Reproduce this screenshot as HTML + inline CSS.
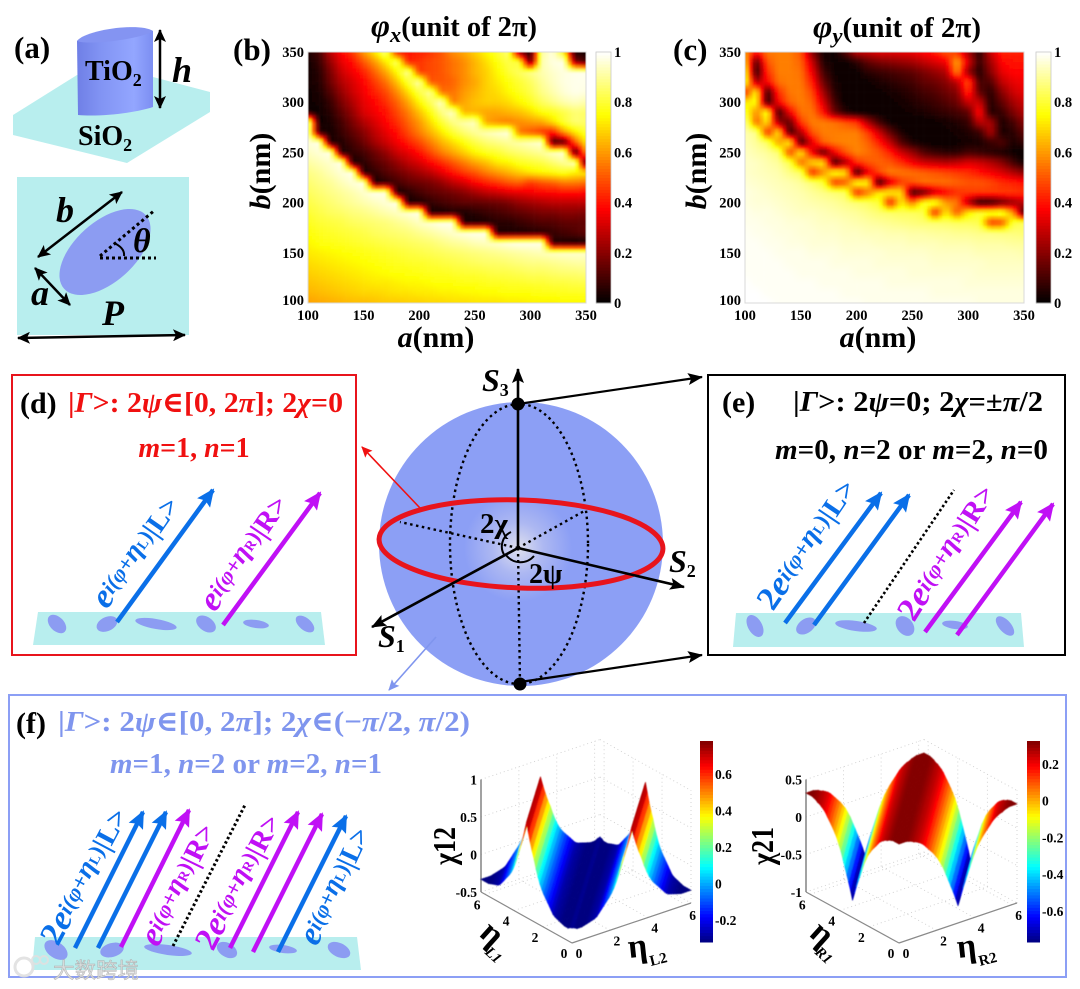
<!DOCTYPE html>
<html lang="en">
<head>
<meta charset="utf-8">
<title>Metasurface phase maps and Poincare sphere figure</title>
<style>
html,body{margin:0;padding:0;background:#fff;}
svg{display:block;}
text{font-family:"Liberation Serif","DejaVu Serif",serif;font-weight:bold;fill:#000;}
.cjk{font-family:"Liberation Sans","Noto Sans CJK SC",sans-serif;font-weight:normal;}
</style>
</head>
<body>
<svg id="fig" xmlns="http://www.w3.org/2000/svg" width="1080" height="989" viewBox="0 0 1080 989">
<defs>
<marker id="mk" markerUnits="userSpaceOnUse" markerWidth="16" markerHeight="14" refX="14" refY="7" orient="auto"><path d="M0,1 L15,7 L0,13 L3,7 Z" fill="#000"/></marker>
<marker id="mkDouble" markerUnits="userSpaceOnUse" markerWidth="14" markerHeight="12" refX="12" refY="6" orient="auto-start-reverse"><path d="M0,0 L13,6 L0,12 L3,6 Z" fill="#000"/></marker>
<marker id="mkBlue" markerUnits="userSpaceOnUse" markerWidth="18" markerHeight="16" refX="16" refY="8" orient="auto"><path d="M0,0 L18,8 L0,16 L3,8 Z" fill="#0a6fe8"/></marker>
<marker id="mkPurple" markerUnits="userSpaceOnUse" markerWidth="18" markerHeight="16" refX="16" refY="8" orient="auto"><path d="M0,0 L18,8 L0,16 L3,8 Z" fill="#c010f5"/></marker>
<marker id="mkRed" markerUnits="userSpaceOnUse" markerWidth="12" markerHeight="10" refX="10" refY="5" orient="auto"><path d="M0,0 L11,5 L0,10 L2,5 Z" fill="#f01010"/></marker>
<marker id="mkPeri" markerUnits="userSpaceOnUse" markerWidth="12" markerHeight="10" refX="10" refY="5" orient="auto"><path d="M0,0 L11,5 L0,10 L2,5 Z" fill="#7f95ee"/></marker>
<linearGradient id="cyl" x1="0" x2="1" y1="0" y2="0"><stop offset="0" stop-color="#6f7fe6"/><stop offset=".3" stop-color="#8193f3"/><stop offset=".75" stop-color="#93a6ff"/><stop offset="1" stop-color="#7c8ef2"/></linearGradient>
<radialGradient id="sphereGrad" cx="518" cy="548" r="142" gradientUnits="userSpaceOnUse"><stop offset="0" stop-color="#dfe0ee"/><stop offset=".18" stop-color="#adb8f2"/><stop offset=".38" stop-color="#8c9ff5"/><stop offset="1" stop-color="#8c9ff5"/></radialGradient>
<filter id="soft" x="-5%" y="-5%" width="110%" height="110%"><feGaussianBlur stdDeviation="1"/></filter>
<filter id="soft3d" x="-5%" y="-5%" width="110%" height="110%"><feGaussianBlur stdDeviation="0.6"/></filter>
<clipPath id="clipB"><rect x="308" y="52" width="278" height="251"/></clipPath>
<clipPath id="clipC"><rect x="745" y="52" width="279" height="251"/></clipPath>
</defs>
<rect width="1080" height="989" fill="#fff"/>

<g>
<text x="14" y="58" font-size="31">(a)</text>
<polygon points="13,115 77,75 153,77 210,92 210,112 127,163 13,135" fill="#b8eeee"/>
<path d="M77,41 C85,33 140,24 153,31 L153,107 C135,113 100,117 78,115 Z" fill="url(#cyl)"/>
<path d="M77,41 C85,30 140,22 153,31 C145,38 90,46 77,41 Z" fill="#8494f2"/>
<text x="85" y="80" font-size="28">TiO<tspan font-size="18" dy="6">2</tspan></text>
<text x="78" y="145" font-size="28">SiO<tspan font-size="18" dy="6">2</tspan></text>
<line x1="160" y1="30" x2="160" y2="108" stroke="#000" stroke-width="2.5" marker-start="url(#mkDouble)" marker-end="url(#mkDouble)"/>
<text x="172" y="82" font-size="36" font-style="italic">h</text>
<rect x="17" y="177" width="172" height="158" fill="#b8eeee"/>
<ellipse cx="105" cy="252" rx="55" ry="30" transform="rotate(-42 105 252)" fill="#8c9cf2"/>
<line x1="38" y1="257" x2="122" y2="192" stroke="#000" stroke-width="2.5" marker-start="url(#mkDouble)" marker-end="url(#mkDouble)"/>
<line x1="35" y1="268" x2="70" y2="305" stroke="#000" stroke-width="2.5" marker-start="url(#mkDouble)" marker-end="url(#mkDouble)"/>
<line x1="18" y1="338" x2="185" y2="335" stroke="#000" stroke-width="2.5" marker-start="url(#mkDouble)" marker-end="url(#mkDouble)"/>
<text x="56" y="222" font-size="36" font-style="italic">b</text>
<text x="31" y="305" font-size="36" font-style="italic">a</text>
<text x="102" y="325" font-size="36" font-style="italic">P</text>
<text x="133" y="252" font-size="34" font-style="italic">θ</text>
<line x1="100" y1="258" x2="156" y2="258" stroke="#000" stroke-width="3" stroke-dasharray="3 3"/>
<line x1="100" y1="256" x2="155" y2="210" stroke="#000" stroke-width="3" stroke-dasharray="3 3"/>
<path d="M114,243 Q125,248 124,256" fill="none" stroke="#000" stroke-width="2"/>
</g>

<g>
<text x="233" y="60" font-size="31">(b)</text>
<text x="371" y="36" font-size="28" textLength="166" lengthAdjust="spacingAndGlyphs"><tspan font-style="italic" font-size="32">φ</tspan><tspan font-style="italic" font-size="22" dy="6">x</tspan><tspan dy="-6">(unit of 2π)</tspan></text>
<text x="436" y="347" font-size="30" text-anchor="middle"><tspan font-style="italic">a</tspan>(nm)</text>
<text transform="translate(270,171) rotate(-90)" font-size="30" text-anchor="middle"><tspan font-style="italic">b</tspan>(nm)</text>
</g>
<g>
<text x="673" y="60" font-size="31">(c)</text>
<text x="813" y="37" font-size="28" textLength="168" lengthAdjust="spacingAndGlyphs"><tspan font-style="italic" font-size="32">φ</tspan><tspan font-style="italic" font-size="22" dy="6">y</tspan><tspan dy="-6">(unit of 2π)</tspan></text>
<text x="878" y="347" font-size="30" text-anchor="middle"><tspan font-style="italic">a</tspan>(nm)</text>
<text transform="translate(706,171) rotate(-90)" font-size="30" text-anchor="middle"><tspan font-style="italic">b</tspan>(nm)</text>
</g>
<g id="heatB"></g>
<g id="heatC"></g>

<g>
<rect x="12" y="375" width="344" height="280" fill="#fff" stroke="#e8141c" stroke-width="2"/>
<text x="20" y="413" font-size="30">(d)</text>
<text x="68" y="412" font-size="29" textLength="275" lengthAdjust="spacingAndGlyphs" style="fill:#f01010">|<tspan font-style="italic">Γ</tspan>&gt;: 2<tspan font-style="italic">ψ</tspan>∈[0, 2<tspan font-style="italic">π</tspan>]; 2<tspan font-style="italic">χ</tspan>=0</text>
<text x="194" y="457" font-size="28" text-anchor="middle" style="fill:#f01010"><tspan font-style="italic">m</tspan>=1, <tspan font-style="italic">n</tspan>=1</text>
<polygon points="38,612 321,612 325,645 33,645" fill="#b8eeee"/>
<g fill="#8c9cf2">
<ellipse cx="57" cy="624" rx="11" ry="7" transform="rotate(45 57 624)"/>
<ellipse cx="107" cy="624" rx="11" ry="7" transform="rotate(-25 107 624)"/>
<ellipse cx="156" cy="624" rx="21" ry="5" transform="rotate(10 156 624)"/>
<ellipse cx="206" cy="624" rx="11" ry="7" transform="rotate(35 206 624)"/>
<ellipse cx="256" cy="624" rx="13" ry="4" transform="rotate(8 256 624)"/>
<ellipse cx="305" cy="624" rx="11" ry="6" transform="rotate(40 305 624)"/>
</g>
<line x1="117" y1="622" x2="213" y2="490" stroke="#0a6fe8" stroke-width="4.5" marker-end="url(#mkBlue)"/>
<line x1="223" y1="625" x2="320" y2="493" stroke="#c010f5" stroke-width="4.5" marker-end="url(#mkPurple)"/>
<text transform="translate(107,610) rotate(-55)" textLength="128" lengthAdjust="spacingAndGlyphs" font-size="22" style="fill:#0a6fe8"><tspan font-size="34" font-style="italic">e</tspan><tspan font-style="italic" dy="-4">i(φ+</tspan><tspan font-size="27" font-style="italic">η</tspan><tspan font-size="14">L</tspan><tspan>)</tspan><tspan dy="4" font-size="28">|L&gt;</tspan></text>
<text transform="translate(215,613) rotate(-56)" textLength="132" lengthAdjust="spacingAndGlyphs" font-size="22" style="fill:#c010f5"><tspan font-size="34" font-style="italic">e</tspan><tspan font-style="italic" dy="-4">i(φ+</tspan><tspan font-size="27" font-style="italic">η</tspan><tspan font-size="14">R</tspan><tspan>)</tspan><tspan dy="4" font-size="28">|R&gt;</tspan></text>
</g>

<g>
<circle cx="521" cy="544" r="142" fill="url(#sphereGrad)"/>
<ellipse cx="519" cy="544" rx="69" ry="140" fill="none" stroke="#000" stroke-width="2.4" stroke-dasharray="2.5 3.5"/>
<line x1="518" y1="548" x2="520" y2="684" stroke="#000" stroke-width="2.4" stroke-dasharray="2.5 3.5"/>
<line x1="518" y1="548" x2="400" y2="522" stroke="#000" stroke-width="2.4" stroke-dasharray="2.5 3.5"/>
<line x1="518" y1="548" x2="586" y2="510" stroke="#000" stroke-width="2.4" stroke-dasharray="2.5 3.5"/>
<ellipse cx="521" cy="544" rx="142" ry="44" transform="rotate(2 521 544)" fill="none" stroke="#e8141c" stroke-width="5"/>
<line x1="518" y1="548" x2="518" y2="369" stroke="#000" stroke-width="2.6" marker-end="url(#mk)"/>
<line x1="518" y1="548" x2="684" y2="587" stroke="#000" stroke-width="2.6" marker-end="url(#mk)"/>
<line x1="518" y1="548" x2="372" y2="627" stroke="#000" stroke-width="2.6" marker-end="url(#mk)"/>
<circle cx="518" cy="404" r="6.5" fill="#000"/>
<circle cx="520" cy="684" r="6.5" fill="#000"/>
<line x1="518" y1="404" x2="702" y2="377" stroke="#000" stroke-width="2.2" marker-end="url(#mk)"/>
<line x1="520" y1="682" x2="702" y2="655" stroke="#000" stroke-width="2.2" marker-end="url(#mk)"/>
<line x1="420" y1="508" x2="362" y2="447" stroke="#f01010" stroke-width="1.6" marker-end="url(#mkRed)"/>
<line x1="436" y1="637" x2="389" y2="690" stroke="#7f95ee" stroke-width="1.6" marker-end="url(#mkPeri)"/>
<path d="M511,532 A16,16 0 0 0 505,556" fill="none" stroke="#000" stroke-width="2"/>
<path d="M506,555 A18,18 0 0 0 534,556" fill="none" stroke="#000" stroke-width="2"/>
<text x="480" y="533" font-size="29">2χ</text>
<text x="529" y="583" font-size="28">2ψ</text>
<text x="482" y="391" font-size="32" font-style="italic">S<tspan font-size="18" dy="5" font-style="normal">3</tspan></text>
<text x="669" y="572" font-size="32" font-style="italic">S<tspan font-size="18" dy="5" font-style="normal">2</tspan></text>
<text x="378" y="647" font-size="32" font-style="italic">S<tspan font-size="18" dy="5" font-style="normal">1</tspan></text>
</g>

<g>
<rect x="708" y="375" width="357" height="280" fill="#fff" stroke="#000" stroke-width="2"/>
<text x="722" y="412" font-size="30">(e)</text>
<text x="793" y="411" font-size="29" textLength="250" lengthAdjust="spacingAndGlyphs">|<tspan font-style="italic">Γ</tspan>&gt;: 2<tspan font-style="italic">ψ</tspan>=0; 2<tspan font-style="italic">χ</tspan>=±<tspan font-style="italic">π</tspan>/2</text>
<text x="775" y="459" font-size="29" textLength="273" lengthAdjust="spacingAndGlyphs"><tspan font-style="italic">m</tspan>=0, <tspan font-style="italic">n</tspan>=2 or <tspan font-style="italic">m</tspan>=2, <tspan font-style="italic">n</tspan>=0</text>
<polygon points="736,613 1021,613 1024,647 733,647" fill="#b8eeee"/>
<g fill="#8c9cf2">
<ellipse cx="755" cy="626" rx="12" ry="7" transform="rotate(60 755 626)"/>
<ellipse cx="806" cy="626" rx="11" ry="7" transform="rotate(-35 806 626)"/>
<ellipse cx="856" cy="626" rx="21" ry="5" transform="rotate(8 856 626)"/>
<ellipse cx="905" cy="626" rx="11" ry="8" transform="rotate(50 905 626)"/>
<ellipse cx="955" cy="625" rx="13" ry="4" transform="rotate(8 955 625)"/>
<ellipse cx="1005" cy="626" rx="12" ry="6" transform="rotate(48 1005 626)"/>
</g>
<line x1="785" y1="623" x2="881" y2="493" stroke="#0a6fe8" stroke-width="4.5" marker-end="url(#mkBlue)"/>
<line x1="814" y1="625" x2="909" y2="495" stroke="#0a6fe8" stroke-width="4.5" marker-end="url(#mkBlue)"/>
<line x1="864" y1="623" x2="954" y2="490" stroke="#000" stroke-width="2.6" stroke-dasharray="2.5 2.5"/>
<line x1="925" y1="632" x2="1021" y2="502" stroke="#c010f5" stroke-width="4.5" marker-end="url(#mkPurple)"/>
<line x1="957" y1="635" x2="1053" y2="504" stroke="#c010f5" stroke-width="4.5" marker-end="url(#mkPurple)"/>
<text transform="translate(773,612) rotate(-56)" textLength="150" lengthAdjust="spacingAndGlyphs" font-size="22" style="fill:#0a6fe8"><tspan font-size="33">2</tspan><tspan font-size="34" font-style="italic">e</tspan><tspan font-style="italic" dy="-4">i(φ+</tspan><tspan font-size="27" font-style="italic">η</tspan><tspan font-size="14">L</tspan><tspan>)</tspan><tspan dy="4" font-size="28">|L&gt;</tspan></text>
<text transform="translate(914,623) rotate(-58)" textLength="154" lengthAdjust="spacingAndGlyphs" font-size="22" style="fill:#c010f5"><tspan font-size="33">2</tspan><tspan font-size="34" font-style="italic">e</tspan><tspan font-style="italic" dy="-4">i(φ+</tspan><tspan font-size="27" font-style="italic">η</tspan><tspan font-size="14">R</tspan><tspan>)</tspan><tspan dy="4" font-size="28">|R&gt;</tspan></text>
</g>

<g>
<rect x="9" y="695" width="1057" height="282" fill="#fff" stroke="#8c9ff5" stroke-width="2"/>
<text x="16" y="733" font-size="30">(f)</text>
<text x="58" y="731" font-size="29" textLength="412" lengthAdjust="spacingAndGlyphs" style="fill:#7f95ee">|<tspan font-style="italic">Γ</tspan>&gt;: 2<tspan font-style="italic">ψ</tspan>∈[0, 2<tspan font-style="italic">π</tspan>]; 2<tspan font-style="italic">χ</tspan>∈(−<tspan font-style="italic">π</tspan>/2, <tspan font-style="italic">π</tspan>/2)</text>
<text x="110" y="773" font-size="29" textLength="272" lengthAdjust="spacingAndGlyphs" style="fill:#7f95ee"><tspan font-style="italic">m</tspan>=1, <tspan font-style="italic">n</tspan>=2 or <tspan font-style="italic">m</tspan>=2, <tspan font-style="italic">n</tspan>=1</text>
<polygon points="35,937 357,937 361,970 32,970" fill="#b8eeee"/>
<g fill="#8c9cf2">
<ellipse cx="56" cy="950" rx="13" ry="8" transform="rotate(35 56 950)"/>
<ellipse cx="112" cy="950" rx="12" ry="7" transform="rotate(-15 112 950)"/>
<ellipse cx="168" cy="950" rx="24" ry="5" transform="rotate(8 168 950)"/>
<ellipse cx="227" cy="950" rx="11" ry="7" transform="rotate(30 227 950)"/>
<ellipse cx="283" cy="949" rx="14" ry="4" transform="rotate(8 283 949)"/>
<ellipse cx="339" cy="950" rx="12" ry="7" transform="rotate(25 339 950)"/>
</g>
<line x1="75" y1="948" x2="143" y2="812" stroke="#0a6fe8" stroke-width="4.5" marker-end="url(#mkBlue)"/>
<line x1="98" y1="948" x2="166" y2="812" stroke="#0a6fe8" stroke-width="4.5" marker-end="url(#mkBlue)"/>
<line x1="121" y1="947" x2="189" y2="810" stroke="#c010f5" stroke-width="4.5" marker-end="url(#mkPurple)"/>
<line x1="173" y1="946" x2="245" y2="805" stroke="#000" stroke-width="3" stroke-dasharray="2.5 2.5"/>
<line x1="230" y1="948" x2="298" y2="812" stroke="#c010f5" stroke-width="4.5" marker-end="url(#mkPurple)"/>
<line x1="253" y1="952" x2="322" y2="814" stroke="#c010f5" stroke-width="4.5" marker-end="url(#mkPurple)"/>
<line x1="278" y1="952" x2="346" y2="816" stroke="#0a6fe8" stroke-width="4.5" marker-end="url(#mkBlue)"/>
<text transform="translate(58,947) rotate(-62)" textLength="150" lengthAdjust="spacingAndGlyphs" font-size="22" style="fill:#0a6fe8"><tspan font-size="33">2</tspan><tspan font-size="34" font-style="italic">e</tspan><tspan font-style="italic" dy="-4">i(φ+</tspan><tspan font-size="27" font-style="italic">η</tspan><tspan font-size="14">L</tspan><tspan>)</tspan><tspan dy="4" font-size="28">|L&gt;</tspan></text>
<text transform="translate(158,948) rotate(-64)" textLength="132" lengthAdjust="spacingAndGlyphs" font-size="22" style="fill:#c010f5"><tspan font-size="34" font-style="italic">e</tspan><tspan font-style="italic" dy="-4">i(φ+</tspan><tspan font-size="27" font-style="italic">η</tspan><tspan font-size="14">R</tspan><tspan>)</tspan><tspan dy="4" font-size="28">|R&gt;</tspan></text>
<text transform="translate(213,952) rotate(-62.5)" textLength="148" lengthAdjust="spacingAndGlyphs" font-size="22" style="fill:#c010f5"><tspan font-size="33">2</tspan><tspan font-size="34" font-style="italic">e</tspan><tspan font-style="italic" dy="-4">i(φ+</tspan><tspan font-size="27" font-style="italic">η</tspan><tspan font-size="14">R</tspan><tspan>)</tspan><tspan dy="4" font-size="28">|R&gt;</tspan></text>
<text transform="translate(317,947) rotate(-65)" textLength="126" lengthAdjust="spacingAndGlyphs" font-size="22" style="fill:#0a6fe8"><tspan font-size="34" font-style="italic">e</tspan><tspan font-style="italic" dy="-4">i(φ+</tspan><tspan font-size="27" font-style="italic">η</tspan><tspan font-size="14">L</tspan><tspan>)</tspan><tspan dy="4" font-size="28">|L&gt;</tspan></text>
</g>
<g id="surf12"></g>
<g id="surf21"></g>

<g opacity="0.9">
<circle cx="24" cy="967" r="9" fill="none" stroke="#e0e0e0" stroke-width="3"/>
<circle cx="36" cy="960" r="4" fill="none" stroke="#e0e0e0" stroke-width="2"/>
<circle cx="44" cy="960" r="4" fill="none" stroke="#e0e0e0" stroke-width="2"/>
<text x="53" y="978" class="cjk" font-size="21.5" style="fill:#dcdcdc;stroke:#aaaaaa;stroke-width:.5">大数跨境</text>
</g>
</svg>

<script>
const heatTicks = [100, 150, 200, 250, 300, 350];
const colorbarTicks = [0, 0.2, 0.4, 0.6, 0.8, 1];
const gridA = [100,110,120,130,140,150,160,170,180,190,200,210,220,230,240,250,260,270,280,290,300,310,320,330,340,350];
const gridB = [350,340,330,320,310,300,290,280,270,260,250,240,230,220,210,200,190,180,170,160,150,140,130,120,110,100];
const phiXValues = [
[4,10,28,38,46,60,72,88,40,40,42,45,50,58,62,68,74,80,86,20,3,90,97,75,4,3],
[3,8,22,34,40,50,60,72,85,42,45,48,50,54,58,64,70,76,82,80,12,92,97,98,20,10],
[2,6,18,30,36,42,52,62,75,90,46,48,50,54,58,64,68,74,80,84,88,92,95,97,98,98],
[3,5,16,26,32,38,46,54,66,80,92,50,50,52,58,62,68,72,76,80,84,90,94,97,98,98],
[2,4,12,22,30,36,42,48,58,70,82,90,54,54,60,64,68,70,74,78,82,88,92,96,98,97],
[2,3,8,18,26,34,38,44,52,62,74,84,95,56,62,66,68,68,70,74,78,84,88,92,94,92],
[3,2,6,14,22,32,36,40,48,56,66,76,88,95,64,64,62,62,64,66,70,76,78,82,86,85],
[98,2,4,10,18,26,32,38,44,52,60,70,80,88,92,94,62,58,56,58,60,62,70,80,86,85],
[96,6,3,8,14,20,28,34,40,48,56,64,72,80,86,90,93,95,97,55,50,45,40,60,72,80],
[96,98,4,5,10,16,24,30,36,42,48,56,64,70,76,82,86,88,90,92,94,96,8,10,50,72],
[94,96,98,3,7,10,16,22,30,34,40,48,56,62,68,74,78,80,84,86,88,90,94,96,6,60],
[91,93,95,98,3,6,12,16,22,28,32,38,44,50,56,62,66,72,74,78,80,82,86,90,94,5],
[88,90,93,96,98,3,7,12,16,20,24,28,34,40,46,50,56,60,64,68,72,74,76,78,74,72],
[86,88,90,93,96,98,3,6,10,14,16,18,22,28,32,38,42,46,50,52,46,50,52,56,56,54],
[84,86,88,90,92,95,98,97,3,6,10,13,15,17,20,24,28,30,33,34,36,38,38,40,40,38],
[82,84,86,88,90,92,94,96,98,3,4,7,10,12,14,14,15,16,18,22,24,26,28,28,28,28],
[80,82,84,85,87,88,90,92,94,96,98,3,3,5,4,6,8,10,12,14,16,18,18,20,20,18],
[78,80,81,82,84,85,86,87,89,91,94,96,98,98,4,3,4,6,6,8,10,12,12,14,14,14],
[76,78,79,80,81,82,84,85,86,87,89,91,93,95,97,98,98,4,4,4,5,6,8,10,12,14],
[74,76,77,78,79,80,81,82,83,84,85,86,88,90,91,93,94,95,97,98,98,98,5,4,3,3],
[72,73,74,75,76,77,78,79,80,81,82,83,84,85,86,87,88,89,90,91,92,93,94,95,95,95],
[70,71,72,73,74,75,76,77,78,79,79,80,81,82,83,84,85,85,86,87,88,88,89,90,91,91],
[68,69,70,71,72,73,74,75,76,76,77,78,78,79,80,80,81,82,82,83,84,84,85,86,86,87],
[66,67,68,69,70,71,72,72,73,74,74,75,76,76,77,77,78,78,79,79,80,80,81,81,82,82],
[64,65,66,67,68,69,69,70,71,71,72,72,73,73,74,74,75,75,76,76,76,77,77,78,78,78],
[61,62,63,64,65,65,66,67,67,68,68,69,69,70,70,71,71,71,72,72,73,73,73,74,74,74]
];
const phiYValues = [
[60,40,55,56,56,50,20,3,2,12,28,30,33,33,34,35,38,42,50,45,25,6,30,42,42,42],
[68,12,50,56,56,52,30,5,2,2,6,14,18,20,22,24,28,32,36,62,32,8,24,38,40,40],
[78,6,44,56,56,54,36,10,2,2,2,6,8,10,12,14,18,22,26,58,22,5,20,34,38,38],
[80,25,38,54,56,55,42,16,4,1,1,2,4,6,8,10,14,16,20,28,50,10,12,28,34,36],
[42,74,8,44,55,56,48,24,6,1,1,1,2,3,5,7,10,12,16,20,45,14,6,20,30,34],
[72,76,6,38,52,56,52,32,10,1,1,1,1,2,3,5,7,9,12,16,30,30,5,14,24,30],
[80,58,78,8,36,54,55,40,16,5,1,1,1,1,2,3,4,6,8,10,14,40,5,8,18,26],
[90,52,72,22,14,46,56,56,54,50,45,25,10,2,1,1,1,2,3,5,8,28,25,4,10,20],
[92,88,42,72,8,26,50,56,56,56,56,46,30,14,4,1,1,1,2,3,5,8,26,4,6,14],
[93,90,84,60,74,8,34,52,56,57,57,52,42,28,12,4,2,1,1,2,3,4,8,12,4,8],
[94,92,90,86,46,74,35,12,36,50,57,54,50,42,30,22,12,8,6,6,10,8,6,4,2,1],
[95,94,92,90,82,52,70,72,8,24,44,50,52,50,44,36,30,28,26,28,32,30,26,20,10,2],
[95,94,93,92,88,84,42,58,78,72,6,34,48,56,55,54,52,50,48,46,44,40,36,32,26,20],
[96,95,94,93,92,90,86,80,45,50,78,74,6,32,46,50,54,54,54,52,50,50,48,44,42,40],
[97,96,95,94,93,92,90,88,86,84,42,55,72,74,70,8,14,30,38,44,46,46,46,46,46,44],
[97,96,96,95,94,93,92,91,90,88,86,84,80,40,72,55,78,80,60,55,26,5,6,14,22,28],
[98,97,97,96,95,94,94,93,92,91,90,88,86,85,84,84,82,42,72,50,72,80,80,82,60,6],
[98,98,97,97,96,96,95,94,94,93,92,91,90,89,88,87,86,86,85,84,84,82,45,48,80,84],
[99,98,98,97,97,96,96,95,95,94,94,93,93,92,92,91,91,90,90,89,89,88,88,87,87,86],
[99,99,98,98,97,97,96,96,96,95,95,95,94,94,94,93,93,93,92,92,92,91,91,91,90,90],
[99,99,99,98,98,98,97,97,97,96,96,96,96,95,95,95,95,94,94,94,94,93,93,93,93,92],
[99,99,99,99,98,98,98,98,97,97,97,97,96,96,96,96,96,95,95,95,95,95,94,94,94,94],
[99,99,99,99,99,98,98,98,98,98,97,97,97,97,97,96,96,96,96,96,96,95,95,95,95,95],
[100,99,99,99,99,99,99,98,98,98,98,98,98,97,97,97,97,97,97,97,96,96,96,96,96,96],
[100,100,99,99,99,99,99,99,99,98,98,98,98,98,98,98,98,97,97,97,97,97,97,97,97,97],
[100,100,100,99,99,99,99,99,99,99,99,98,98,98,98,98,98,98,98,98,98,97,97,97,97,97]
];
// chi values indexed by |eta1 - eta2| in steps of pi/24
const chi12ByPhaseDifference = [-0.30,-0.31,-0.33,-0.33,-0.33,-0.32,-0.31,-0.30,-0.29,-0.28,-0.26,-0.22,-0.18,-0.14,-0.10,-0.06,-0.01,0.05,0.13,0.22,0.33,0.42,0.52,0.64,0.77,0.64,0.52,0.42,0.33,0.22,0.13,0.05,-0.01,-0.06,-0.10,-0.14,-0.18,-0.22,-0.26,-0.28,-0.29,-0.30,-0.31,-0.32,-0.33,-0.33,-0.33,-0.33,-0.33];
const chi21ByPhaseDifference = [0.32,0.32,0.32,0.32,0.31,0.30,0.28,0.27,0.25,0.23,0.20,0.16,0.12,0.08,0.04,-0.01,-0.06,-0.13,-0.20,-0.29,-0.38,-0.47,-0.56,-0.66,-0.77,-0.66,-0.56,-0.47,-0.38,-0.29,-0.20,-0.13,-0.06,-0.01,0.04,0.08,0.12,0.16,0.20,0.23,0.25,0.27,0.28,0.30,0.31,0.32,0.32,0.32,0.32];
const etaTicks = [0, 2, 4, 6];
const chi12ZTicks = [-0.5, 0, 0.5, 1];
const chi21ZTicks = [-1, -0.5, 0, 0.5];
const chi12BarTicks = [-0.2, 0, 0.2, 0.4, 0.6];
const chi21BarTicks = [-0.6, -0.4, -0.2, 0, 0.2];

const NS = 'http://www.w3.org/2000/svg';
function mk(tag, attrs, parent) {
  const el = document.createElementNS(NS, tag);
  for (const k in attrs) el.setAttribute(k, attrs[k]);
  parent.appendChild(el);
  return el;
}
function clamp01(v) { return Math.max(0, Math.min(1, v)); }
function rgb(r, g, b) { return 'rgb(' + Math.round(r * 255) + ',' + Math.round(g * 255) + ',' + Math.round(b * 255) + ')'; }
function hot(v) { return rgb(clamp01(v / 0.375), clamp01((v - 0.375) / 0.375), clamp01((v - 0.75) / 0.25)); }
function jet(v) {
  const t = clamp01(v);
  return rgb(clamp01(1.5 - Math.abs(4 * t - 3)), clamp01(1.5 - Math.abs(4 * t - 2)), clamp01(1.5 - Math.abs(4 * t - 1)));
}

function drawHeatmap(rootId, clipId, x0, x1, y0, y1, barX, values) {
  const root = document.getElementById(rootId);
  const xScale = a => x0 + (a - 100) / 250 * (x1 - x0);
  const yScale = b => y1 - (b - 100) / 250 * (y1 - y0);
  const clip = mk('g', { 'clip-path': 'url(#' + clipId + ')' }, root);
  
  
  const blur = mk('g', { filter: 'url(#soft)' }, clip);
  
  
  const cw = (x1 - x0) / (gridA.length - 1), ch = (y1 - y0) / (gridB.length - 1);
  const shades = 3;
  for (let r = 0; r < gridB.length - 1; r++) {
    for (let c = 0; c < gridA.length - 1; c++) {
      for (let sy = 0; sy < shades; sy++) {
        for (let sx = 0; sx < shades; sx++) {
          const fx = (sx + 0.5) / shades, fy = (sy + 0.5) / shades;
          const v = (values[r][c] * (1 - fx) + values[r][c + 1] * fx) * (1 - fy) +
                    (values[r + 1][c] * (1 - fx) + values[r + 1][c + 1] * fx) * fy;
          const padL = (c === 0 && sx === 0) ? 5 : 0, padR = (c === gridA.length - 2 && sx === shades - 1) ? 5 : 0;
          const padT = (r === 0 && sy === 0) ? 5 : 0, padB = (r === gridB.length - 2 && sy === shades - 1) ? 5 : 0;
          const cell = mk('rect', {
            x: (xScale(gridA[c]) + sx * cw / shades - padL).toFixed(2),
            y: (yScale(gridB[r]) + sy * ch / shades - padT).toFixed(2),
            width: (cw / shades + padL + padR + 0.3).toFixed(2),
            height: (ch / shades + padT + padB + 0.3).toFixed(2),
            fill: hot(v / 100)
          }, blur);
          
          
        }
      }
    }
  }
  const frame = mk('rect', { x: x0, y: y0, width: x1 - x0, height: y1 - y0, fill: 'none', stroke: '#d8d8d8', 'stroke-width': 1 }, root);
  
  
  heatTicks.forEach(t => {
    const xl = mk('text', { x: xScale(t), y: 320, 'font-size': 14.5, 'text-anchor': 'middle' }, root);
    xl.textContent = t;
    
    
    const yl = mk('text', { x: x0 - 4, y: yScale(t) + 5 - (t === 100 ? 3 : 0), 'font-size': 14.5, 'text-anchor': 'end' }, root);
    yl.textContent = t;
    
    
  });
  const barH = y1 - y0, steps = 84;
  for (let i = 0; i < steps; i++) {
    const seg = mk('rect', { x: barX, y: y1 - (i + 1) / steps * barH, width: 15, height: barH / steps + 0.5, fill: hot((i + 0.5) / steps) }, root);
    
    
  }
  const barFrame = mk('rect', { x: barX, y: y0, width: 15, height: barH, fill: 'none', stroke: '#c8c8c8', 'stroke-width': 0.8 }, root);
  
  
  colorbarTicks.forEach(t => {
    const lbl = mk('text', { x: barX + 18, y: y1 - t * barH + 5, 'font-size': 14.5 }, root);
    lbl.textContent = t;
    
    
  });
}

function drawSurface(rootId, cfg, profile, zTicks, barTicks) {
  const root = document.getElementById(rootId);
  const TWO_PI = Math.PI * 2;
  const project = (e1, e2, z) => {
    const u = e1 / TWO_PI, v = e2 / TWO_PI;
    return [
      cfg.fx + u * (cfg.lx - cfg.fx) + v * (cfg.rx - cfg.fx),
      cfg.fy + u * (cfg.ly - cfg.fy) + v * (cfg.ry - cfg.fy) - (z - cfg.zMin) * cfg.zScale
    ];
  };
  const line = (a, b, attrs, name) => {
    const el = mk('line', Object.assign({ x1: a[0], y1: a[1], x2: b[0], y2: b[1] }, attrs), root);
    
    
  };
  const wall = { stroke: '#cfcfcf', 'stroke-width': 0.9, 'stroke-dasharray': '1 3' };
  zTicks.forEach(z => {
    line(project(TWO_PI, 0, z), project(TWO_PI, TWO_PI, z), wall, 'wall-grid-line');
    line(project(TWO_PI, TWO_PI, z), project(0, TWO_PI, z), wall, 'wall-grid-line');
  });
  etaTicks.forEach(t => {
    line(project(t, 0, cfg.zMin), project(t, TWO_PI, cfg.zMin), wall, 'floor-grid-line');
    line(project(0, t, cfg.zMin), project(TWO_PI, t, cfg.zMin), wall, 'floor-grid-line');
    line(project(TWO_PI, t, cfg.zMin), project(TWO_PI, t, cfg.zMax), wall, 'wall-grid-line');
    line(project(t, TWO_PI, cfg.zMin), project(t, TWO_PI, cfg.zMax), wall, 'wall-grid-line');
  });
  line(project(0, 0, cfg.zMin), project(TWO_PI, 0, cfg.zMin), { stroke: '#8a8a8a', 'stroke-width': 1.2 }, 'eta-1-axis');
  line(project(0, 0, cfg.zMin), project(0, TWO_PI, cfg.zMin), { stroke: '#8a8a8a', 'stroke-width': 1.2 }, 'eta-2-axis');
  line(project(TWO_PI, 0, cfg.zMin), project(TWO_PI, 0, cfg.zMax), { stroke: '#8a8a8a', 'stroke-width': 1.6 }, 'z-axis');

  const n = profile.length - 1;
  const height = (i, j) => profile[Math.abs(i - j)];
  const quads = [];
  for (let i = 0; i < n; i++) for (let j = 0; j < n; j++) quads.push([i, j]);
  quads.sort((p, q) => (q[0] + q[1]) - (p[0] + p[1]));
  const mesh = mk('g', { filter: 'url(#soft3d)' }, root);
  
  
  const s = TWO_PI / n;
  const tri = corners => {
    const pts = corners.map(c => project(c[0] * s, c[1] * s, height(c[0], c[1])).map(v => v.toFixed(1)).join(','));
    const avg = corners.reduce((acc, c) => acc + height(c[0], c[1]), 0) / 3;
    const color = jet((avg - cfg.cMin) / (cfg.cMax - cfg.cMin));
    const poly = mk('polygon', { points: pts.join(' '), fill: color, stroke: color, 'stroke-width': 0.6 }, mesh);
    
    
  };
  quads.forEach(q => {
    const i = q[0], j = q[1];
    tri([[i + 1, j], [i + 1, j + 1], [i, j]]);
    tri([[i, j + 1], [i + 1, j + 1], [i, j]]);
  });

  zTicks.forEach(z => {
    const p = project(TWO_PI, 0, z);
    const lbl = mk('text', { x: p[0] - 4, y: p[1] + 5, 'font-size': 13.5, 'text-anchor': 'end' }, root);
    lbl.textContent = z;
    
    
  });
  etaTicks.forEach(t => {
    const a = project(t, 0, cfg.zMin);
    const la = mk('text', { x: a[0] - 8, y: a[1] + 15, 'font-size': 13.5, 'text-anchor': 'middle' }, root);
    la.textContent = t;
    
    
    const b = project(0, t, cfg.zMin);
    const lb = mk('text', { x: b[0] + 7, y: b[1] + 15, 'font-size': 13.5, 'text-anchor': 'middle' }, root);
    lb.textContent = t;
    
    
  });

  const barTop = 741, barBottom = 942, steps = 64;
  const barY = v => barBottom - (v - cfg.cMin) / (cfg.cMax - cfg.cMin) * (barBottom - barTop);
  for (let i = 0; i < steps; i++) {
    const seg = mk('rect', { x: cfg.barX, y: barBottom - (i + 1) / steps * (barBottom - barTop), width: 13, height: (barBottom - barTop) / steps + 0.5, fill: jet((i + 0.5) / steps) }, root);
    
    
  }
  barTicks.forEach(t => {
    const lbl = mk('text', { x: cfg.barX + 15, y: barY(t) + 5, 'font-size': 13.5 }, root);
    lbl.textContent = t;
    
    
  });

  const zt = mk('text', { transform: 'translate(' + cfg.zTitleX + ',846) rotate(-90)', 'font-size': 32, 'text-anchor': 'middle', textLength: 38, lengthAdjust: 'spacingAndGlyphs' }, root);
  zt.textContent = cfg.zTitle;
  
  
  const t1 = mk('text', { transform: 'translate(' + cfg.t1x + ',' + cfg.t1y + ') rotate(42)', 'font-size': 34 }, root);
  t1.textContent = 'η';
  
  
  const t1s = mk('text', { transform: 'translate(' + (cfg.t1x + 6) + ',' + (cfg.t1y + 18) + ') rotate(42)', 'font-size': 15, 'font-style': 'italic' }, root);
  t1s.textContent = cfg.sub1;
  
  
  const t2 = mk('text', { transform: 'translate(' + cfg.t2x + ',958) rotate(-6)', 'font-size': 34 }, root);
  t2.textContent = 'η';
  
  
  const t2s = mk('text', { transform: 'translate(' + (cfg.t2x + 22) + ',966) rotate(-14)', 'font-size': 15 }, root);
  t2s.textContent = cfg.sub2;
  
  
}

drawHeatmap('heatB', 'clipB', 308, 586, 52, 303, 596, phiXValues);
drawHeatmap('heatC', 'clipC', 745, 1024, 52, 303, 1036, phiYValues);
drawSurface('surf12', {
  fx: 572, fy: 943, lx: 481, ly: 892, rx: 691, ry: 903, zMin: -0.5, zMax: 1, zScale: 75,
  cMin: -0.32, cMax: 0.78, barX: 700, zTitle: 'χ12', zTitleX: 455, t1x: 478, t1y: 935, t2x: 629, sub1: 'L1', sub2: 'L2'
}, chi12ByPhaseDifference, chi12ZTicks, chi12BarTicks);
drawSurface('surf21', {
  fx: 899, fy: 943, lx: 806, ly: 892, rx: 1017, ry: 903, zMin: -1, zMax: 0.5, zScale: 75,
  cMin: -0.77, cMax: 0.325, barX: 1027, zTitle: 'χ21', zTitleX: 773, t1x: 808, t1y: 935, t2x: 958, sub1: 'R1', sub2: 'R2'
}, chi21ByPhaseDifference, chi21ZTicks, chi21BarTicks);
</script>
</body>
</html>
